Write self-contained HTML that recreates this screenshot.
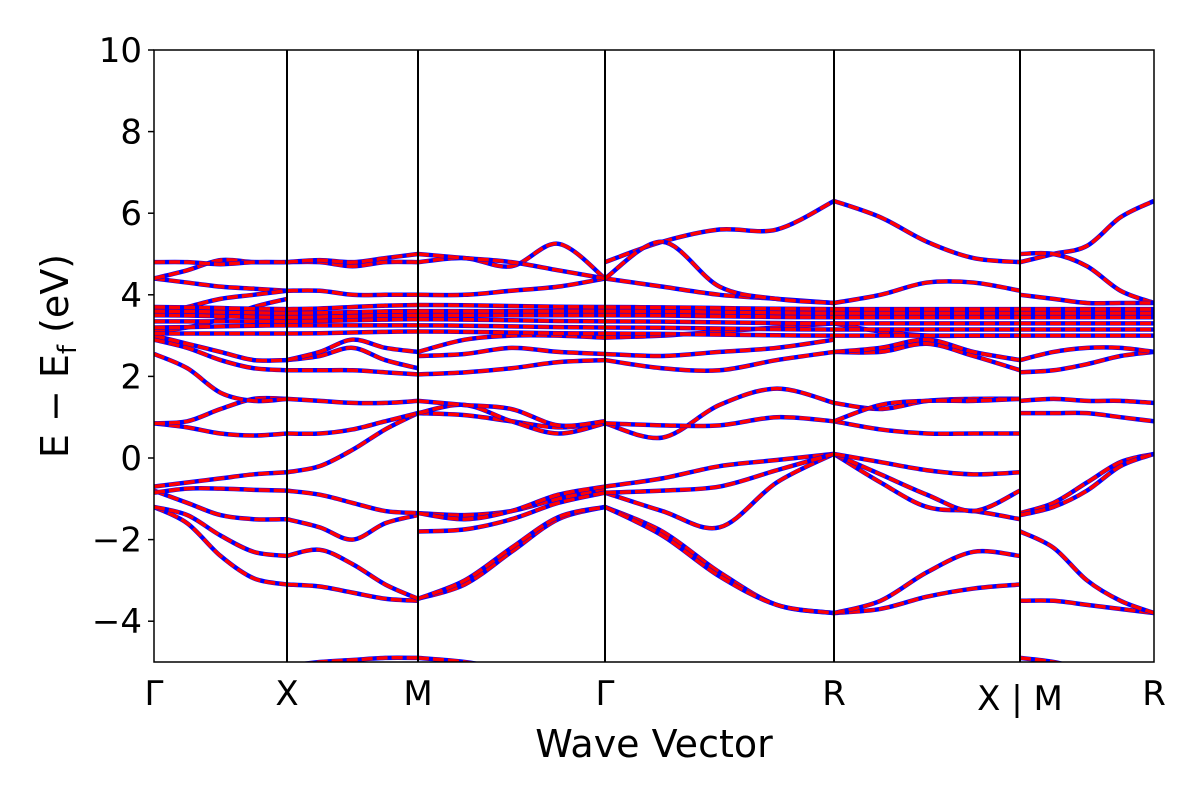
<!DOCTYPE html>
<html><head><meta charset="utf-8"><style>
body{margin:0;background:#fff}
svg text{font-family:"DejaVu Sans","Liberation Sans",sans-serif;fill:#000}
</style></head><body>
<svg id="chart" width="1200" height="800" xmlns="http://www.w3.org/2000/svg">
<defs><clipPath id="pc"><rect x="154" y="50" width="1000" height="612"/></clipPath></defs>
<g id="bands" clip-path="url(#pc)"></g>
<g id="axes"></g>
</svg>
<script>
const kLabels=["Γ","X","M","Γ","R","X | M","R"];
const kPos=[0,0.133,0.264,0.451,0.680,0.866,1.0];
const yTicks=[-4,-2,0,2,4,6,8,10];
const segGX=[[-1.2,-1.6,-2.4,-2.95,-3.1],[-1.2,-1.4,-1.9,-2.3,-2.4],[-0.8,-1.1,-1.4,-1.5,-1.5],[-0.85,-0.75,-0.75,-0.78,-0.8],[-0.7,-0.6,-0.5,-0.4,-0.35],[0.85,0.75,0.6,0.55,0.6],[0.85,0.9,1.2,1.45,1.45],[2.55,2.2,1.6,1.4,1.45],[2.9,2.7,2.4,2.2,2.15],[3.0,2.8,2.6,2.4,2.4],[4.4,4.3,4.2,4.15,4.1],[4.4,4.6,4.85,4.8,4.8],[4.8,4.8,4.75,4.8,4.8],[3.1,3.2,3.4,3.7,3.9],[3.5,3.7,3.9,4.0,4.1]];
const segXM=[[-3.1,-3.15,-3.3,-3.45,-3.5],[-2.4,-2.25,-2.6,-3.1,-3.45],[-1.5,-1.7,-2.0,-1.6,-1.4],[-0.8,-0.9,-1.1,-1.3,-1.35],[-0.35,-0.2,0.2,0.7,1.1],[0.6,0.6,0.7,0.9,1.1],[1.45,1.4,1.35,1.35,1.4],[2.15,2.15,2.15,2.1,2.05],[2.4,2.5,2.7,2.4,2.2],[4.1,4.1,4.0,4.0,4.0],[4.8,4.8,4.7,4.8,4.8],[4.8,4.85,4.8,4.9,5.0],[-5.1,-5.0,-4.95,-4.9,-4.9],[2.4,2.6,2.9,2.7,2.6]];
const segMG=[[-3.45,-3.1,-2.3,-1.5,-1.2],[-3.45,-3.0,-2.2,-1.45,-1.2],[-1.8,-1.75,-1.5,-1.1,-0.85],[-1.35,-1.4,-1.3,-1.0,-0.75],[-1.35,-1.5,-1.3,-0.9,-0.7],[1.1,1.05,0.9,0.75,0.85],[1.1,1.3,0.9,0.6,0.85],[1.4,1.3,1.2,0.8,0.9],[2.05,2.1,2.2,2.35,2.4],[2.5,2.55,2.7,2.6,2.55],[4.0,4.0,4.1,4.2,4.4],[4.8,4.9,4.7,5.25,4.4],[5.0,4.9,4.8,4.6,4.4],[-4.9,-5.0,-5.2,-5.4,-5.5],[2.6,2.9,3.0,3.0,2.95]];
const segGR=[[-1.2,-1.8,-2.8,-3.6,-3.8],[-1.2,-1.9,-2.9,-3.6,-3.8],[-0.7,-0.5,-0.2,-0.05,0.1],[-0.85,-1.3,-1.7,-0.6,0.1],[-0.85,-0.8,-0.7,-0.3,0.1],[0.85,0.5,1.3,1.7,1.35],[0.85,0.8,0.8,1.0,0.9],[2.4,2.2,2.15,2.4,2.6],[2.55,2.5,2.6,2.7,2.9],[4.4,4.2,4.0,3.9,3.8],[4.8,5.3,5.6,5.6,6.3],[4.4,5.3,4.2,3.9,3.8],[2.95,3.0,3.1,3.2,3.3]];
const segRX=[[-3.8,-3.7,-3.4,-3.2,-3.1],[-3.8,-3.5,-2.8,-2.3,-2.4],[0.1,-0.6,-1.2,-1.3,-1.5],[0.1,-0.4,-0.9,-1.3,-0.8],[0.1,-0.1,-0.3,-0.4,-0.35],[0.9,0.7,0.6,0.6,0.6],[1.35,1.2,1.4,1.45,1.45],[0.9,1.3,1.4,1.4,1.45],[2.6,2.6,2.8,2.5,2.15],[2.6,2.7,2.9,2.6,2.4],[6.3,5.9,5.3,4.9,4.8],[3.8,4.0,4.3,4.3,4.1],[3.3,3.1,3.0,3.0,3.0]];
const segMR=[[-3.5,-3.5,-3.6,-3.7,-3.8],[-1.8,-2.2,-3.0,-3.5,-3.8],[-1.35,-1.1,-0.6,-0.1,0.1],[-1.4,-1.2,-0.8,-0.2,0.1],[1.1,1.1,1.1,1.0,0.9],[1.4,1.45,1.4,1.4,1.35],[2.1,2.15,2.3,2.5,2.6],[2.4,2.6,2.7,2.7,2.6],[4.8,5.0,5.2,5.9,6.3],[5.0,5.0,4.7,4.1,3.8],[4.0,3.9,3.8,3.8,3.8],[-4.9,-5.0,-5.2,-5.4,-5.5]];
const cluster=[[3.05,3.05,3.1,3.05,3.0,3.0,3.0,3.0],[3.2,3.25,3.25,3.2,3.15,3.15,3.15,3.15],[3.35,3.35,3.4,3.35,3.3,3.3,3.3,3.3],[3.5,3.45,3.5,3.5,3.45,3.45,3.45,3.45],[3.6,3.55,3.6,3.6,3.55,3.55,3.55,3.55],[3.7,3.65,3.75,3.7,3.65,3.65,3.65,3.65]];
const segs=[[0,1,segGX],[1,2,segXM],[2,3,segMG],[3,4,segGR],[4,5,segRX],[5,6,segMR]];
const X0=154,X1=1154,Y0=50,Y1=662,EMIN=-5,EMAX=10;
const xs=f=>X0+f*(X1-X0);
const ys=e=>Y1-(e-EMIN)/(EMAX-EMIN)*(Y1-Y0);
const NS="http://www.w3.org/2000/svg";
const bandsG=document.getElementById('bands'),axesG=document.getElementById('axes');
function cr(pts){let d=`M${pts[0][0]},${pts[0][1]}`;for(let i=0;i<pts.length-1;i++){const p0=pts[i-1]||pts[i],p1=pts[i],p2=pts[i+1],p3=pts[i+2]||p2;d+=` C${p1[0]+(p2[0]-p0[0])/6},${p1[1]+(p2[1]-p0[1])/6} ${p2[0]-(p3[0]-p1[0])/6},${p2[1]-(p3[1]-p1[1])/6} ${p2[0]},${p2[1]}`;}return d;}
function drawBand(pts){
  const d=cr(pts);
  const b=document.createElementNS(NS,'path');b.setAttribute('d',d);b.setAttribute('fill','none');b.setAttribute('stroke','#0000ff');b.setAttribute('stroke-width','4.5');
  
  
  bandsG.appendChild(b);
  const r=document.createElementNS(NS,'path');r.setAttribute('d',d);r.setAttribute('fill','none');r.setAttribute('stroke','#ff0000');r.setAttribute('stroke-width','3.5');r.setAttribute('stroke-dasharray','11 4');
  
  
  bandsG.appendChild(r);
}
segs.forEach(([a,b,bands])=>{
  const xa=kPos[a],xb=kPos[b];
  bands.forEach(vals=>{drawBand(vals.map((e,j)=>[xs(xa+(xb-xa)*j/(vals.length-1)),ys(e)]));});
});
const clusterK=[0,1,2,3,4,5,5,6];
cluster.forEach(vals=>{
  for(let s=0;s<7;s++){
    if(s===5)continue;
    const ka=kPos[clusterK[s]],kb=kPos[clusterK[s+1]];
    const ea=vals[s],eb=vals[s+1];
    const pts=[];for(let j=0;j<=4;j++){const t=j/4;pts.push([xs(ka+(kb-ka)*t),ys(ea+(eb-ea)*(1-Math.cos(Math.PI*t))/2)]);}
    drawBand(pts);
  }
});
function el(tag,attrs,txt){const e=document.createElementNS(NS,tag);for(const k in attrs)e.setAttribute(k,attrs[k]);if(txt!==undefined)e.textContent=txt;return e;}
kPos.forEach((k,i)=>{
  if(i>0&&i<kPos.length-1){const l=el('line',{x1:xs(k),x2:xs(k),y1:Y0,y2:Y1,stroke:'#000','stroke-width':2});
  
  
  axesG.appendChild(l);}
  const t=el('text',{x:xs(k),y:i===5?710:705,'font-size':34,'text-anchor':'middle'},kLabels[i]);
  
  
  axesG.appendChild(t);
});
yTicks.forEach(v=>{
  const tk=el('line',{x1:X0-6,x2:X0,y1:ys(v),y2:ys(v),stroke:'#000','stroke-width':1.5});
  
  
  axesG.appendChild(tk);
  const t=el('text',{x:X0-12,y:ys(v)+12,'font-size':34,'text-anchor':'end'},v<0?'\u2212'+(-v):String(v));
  
  
  axesG.appendChild(t);
});
const fr=el('rect',{x:X0,y:Y0,width:X1-X0,height:Y1-Y0,fill:'none',stroke:'#000','stroke-width':1.5});


axesG.appendChild(fr);
const xt=el('text',{x:654,y:757,'font-size':38,'text-anchor':'middle'},'Wave Vector');


axesG.appendChild(xt);
const yt=el('text',{x:0,y:0,'font-size':38,'text-anchor':'middle',transform:'translate(68,356) rotate(-90)'});
yt.innerHTML='E \u2212 E<tspan font-size="26" dy="8">f</tspan><tspan dy="-8"> (eV)</tspan>';


axesG.appendChild(yt);
</script>
</body></html>
